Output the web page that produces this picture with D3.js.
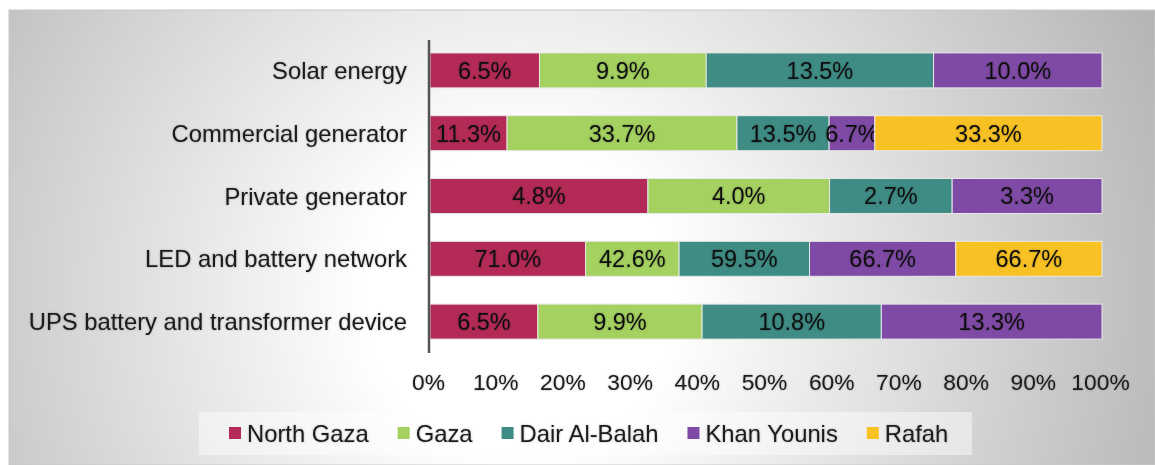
<!DOCTYPE html>
<html lang="en">
<head>
  <meta charset="UTF-8">
  <title>Electricity sources by governorate</title>
  <script src="https://d3js.org/d3.v7.min.js"></script>
  <style>
    body { margin: 0; background: #fff; }
    text { font-family: "Liberation Sans", Arial, sans-serif; }
  </style>
</head>
<body>
  <div id="chart"></div>
  <script>
    const categories = ["Solar energy", "Commercial generator", "Private generator", "LED and battery network", "UPS battery and transformer device"];
    const regions = ["North Gaza", "Gaza", "Dair Al-Balah", "Khan Younis", "Rafah"];
    const northGaza = [6.5, 11.3, 4.8, 71.0, 6.5];
    const gaza = [9.9, 33.7, 4.0, 42.6, 9.9];
    const dairAlBalah = [13.5, 13.5, 2.7, 59.5, 10.8];
    const khanYounis = [10.0, 6.7, 3.3, 66.7, 13.3];
    const rafah = [0, 33.3, 0, 66.7, 0];
    const tickValues = [0, 0.1, 0.2, 0.3, 0.4, 0.5, 0.6, 0.7, 0.8, 0.9, 1];
    const colors = ["#b22a55", "#a4d160", "#3e8c84", "#7f4aa6", "#f8c224"];

    const seriesValues = [northGaza, gaza, dairAlBalah, khanYounis, rafah];
    const rows = categories.map((c, i) => {
      const r = { category: c };
      regions.forEach((g, j) => r[g] = seriesValues[j][i]);
      return r;
    });

    const width = 1155, height = 465;
    const svg = d3.select("#chart").append("svg")
      .attr("width", width)
      .attr("height", height);

    const defs = svg.append("defs");
    const grad = defs.append("radialGradient")
      .attr("id", "bg")
      .attr("gradientUnits", "userSpaceOnUse")
      .attr("cx", 520).attr("cy", 300).attr("r", 700);
    grad.append("stop").attr("offset", "0%").attr("stop-color", "#ffffff");
    grad.append("stop").attr("offset", "22%").attr("stop-color", "#ffffff");
    grad.append("stop").attr("offset", "100%").attr("stop-color", "#b4b4b4");

    const shadow = defs.append("filter").attr("id", "glow")
      .attr("x", "-10%").attr("y", "-20%").attr("width", "120%").attr("height", "140%");
    shadow.append("feDropShadow")
      .attr("dx", 0).attr("dy", 0).attr("stdDeviation", 1)
      .attr("flood-color", "#000").attr("flood-opacity", 0.3);

    svg.append("rect")
      .attr("x", 9).attr("y", 10)
      .attr("width", width - 9).attr("height", height - 10)
      .attr("fill", "url(#bg)")
      .attr("stroke", "#c8c8c8").attr("stroke-width", 1);

    const x = d3.scaleLinear().domain([0, 1]).range([430, 1102]);
    const y = d3.scaleBand().domain(categories).range([39, 353]).paddingInner(0.443).paddingOuter(0.2215);
    const color = d3.scaleOrdinal().domain(regions).range(colors);

    const stack = d3.stack().keys(regions).offset(d3.stackOffsetExpand);
    const series = stack(rows);

    const g = svg.append("g");
    const layers = g.selectAll("g.layer")
      .data(series)
      .join("g")
      .attr("class", "layer")
      .attr("fill", d => color(d.key));

    layers.selectAll("rect")
      .data(d => d.filter(p => p.data[d.key] > 0).map(p => ({ p, key: d.key })))
      .join("rect")
      .attr("x", d => x(d.p[0]))
      .attr("y", d => y(d.p.data.category))
      .attr("width", d => x(d.p[1]) - x(d.p[0]))
      .attr("height", y.bandwidth())
      .attr("stroke", "#e8e8e8")
      .attr("stroke-width", 1);

    layers.selectAll("text")
      .data(d => d.filter(p => p.data[d.key] > 0).map(p => ({ p, key: d.key })))
      .join("text")
      .attr("x", d => (x(d.p[0]) + x(d.p[1])) / 2)
      .attr("y", d => y(d.p.data.category) + y.bandwidth() / 2)
      .attr("dy", "0.36em")
      .attr("text-anchor", "middle")
      .attr("fill", "#111")
      .attr("font-size", 23.5)
      .attr("filter", "url(#glow)")
      .text(d => d.p.data[d.key].toFixed(1) + "%");

    // y axis: line and category labels
    svg.append("line")
      .attr("x1", 429).attr("x2", 429)
      .attr("y1", 40).attr("y2", 353)
      .attr("stroke", "#555").attr("stroke-width", 2.5);

    svg.append("g").selectAll("text")
      .data(categories)
      .join("text")
      .attr("x", 407)
      .attr("y", d => y(d) + y.bandwidth() / 2)
      .attr("dy", "0.36em")
      .attr("text-anchor", "end")
      .attr("font-size", 23.8)
      .attr("fill", "#1a1a1a")
      .attr("filter", "url(#glow)")
      .text(d => d);

    // x axis tick labels
    const xAxis = d3.axisBottom(x)
      .tickValues(tickValues)
      .tickFormat(d3.format(".0%"))
      .tickSize(0)
      .tickPadding(0);
    const ax = svg.append("g")
      .attr("transform", "translate(-2,374)")
      .call(xAxis);
    ax.select(".domain").remove();
    ax.selectAll("text")
      .attr("font-size", 22.8)
      .attr("font-family", "'Liberation Sans', Arial, sans-serif")
      .attr("fill", "#1a1a1a")
      .attr("filter", "url(#glow)");

    // legend
    const legend = svg.append("g");
    legend.append("rect")
      .attr("x", 199).attr("y", 412)
      .attr("width", 773).attr("height", 43)
      .attr("fill", "rgba(255,255,255,0.45)");
    let lx = 229;
    regions.forEach(r => {
      const item = legend.append("g").attr("transform", `translate(${lx},0)`);
      item.append("rect")
        .attr("x", 0).attr("y", 427)
        .attr("width", 12).attr("height", 12)
        .attr("fill", color(r));
      const t = item.append("text")
        .attr("x", 18).attr("y", 442)
        .attr("font-size", 23.8)
        .attr("fill", "#1a1a1a")
        .attr("filter", "url(#glow)")
        .text(r);
      lx += 18 + t.node().getComputedTextLength() + 29;
    });
  </script>
</body>
</html>
